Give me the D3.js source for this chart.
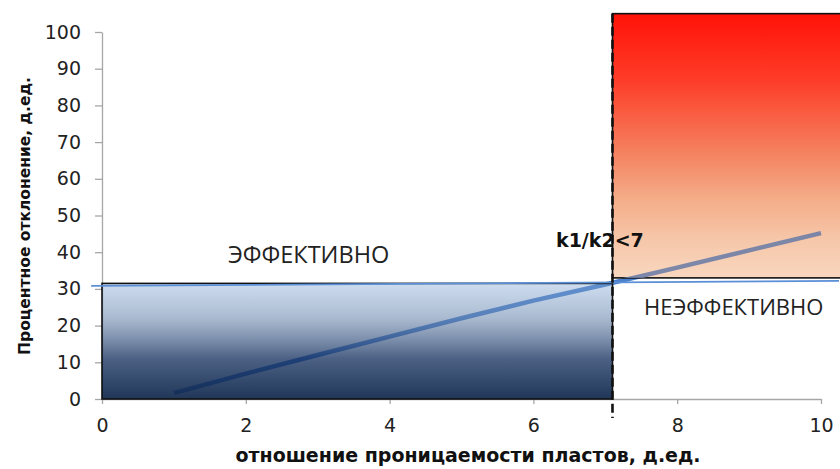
<!DOCTYPE html>
<html><head><meta charset="utf-8">
<script src="https://cdn.jsdelivr.net/npm/d3@7"></script>
<style>body{margin:0;background:#fff}</style>
</head><body>
<svg id="c" width="840" height="469"></svg>
<script>
// Data
const trendX = [1, 2, 3, 4, 5, 6, 7, 8, 9, 10];
const trendY = [1.6, 6.9, 12.0, 17.0, 22.0, 26.8, 31.2, 35.8, 40.5, 45.2];
const baseLineX = [-0.15, 10.25];
const baseLineY = [30.8, 32.2];
const threshold = 7.1;
const effZone = {x0: 0, x1: 7.1, y0: 0, y1: 31.5};
const ineffZone = {x0: 7.1, x1: 10.3, y0: 33, y1: 105};
const xTicks = [0, 2, 4, 6, 8, 10];
const yTicks = [0, 10, 20, 30, 40, 50, 60, 70, 80, 90, 100];
const labels = ["ЭФФЕКТИВНО", "НЕЭФФЕКТИВНО", "k1/k2<7"];
const xTitle = "отношение проницаемости пластов, д.ед.";
const yTitle = "Процентное отклонение, д.ед.";

const svg = d3.select("#c");
const x = d3.scaleLinear().domain([0, 10]).range([102, 821]);
const y = d3.scaleLinear().domain([0, 100]).range([399, 32]);

const defs = svg.append("defs");
function grad(id, stops) {
  const g = defs.append("linearGradient").attr("id", id).attr("x1", 0).attr("y1", 0).attr("x2", 0).attr("y2", 1);
  stops.forEach(s => g.append("stop").attr("offset", s[0]).attr("stop-color", s[1]).attr("stop-opacity", s[2]));
}
grad("gb", [["0%", "#82a7d4", 0.4], ["30%", "#6380a8", 0.55], ["65%", "#102c5b", 0.75], ["100%", "#10284c", 0.93]]);
grad("gr", [["0%", "#ff1208", 1], ["25%", "#fe3c28", 1], ["50%", "#f57b5a", 1], ["70%", "#f4ac88", 1], ["85%", "#f6c6a8", 1], ["100%", "#f8d7bf", 1]]);

// Axes
const font = "'DejaVu Sans', sans-serif";
const yAxis = svg.append("g").attr("transform", `translate(${x(0)},0)`)
  .call(d3.axisLeft(y).tickValues(yTicks).tickSize(7).tickPadding(14).tickSizeOuter(0));
const xAxis = svg.append("g").attr("transform", `translate(0,${y(0)})`)
  .call(d3.axisBottom(x).tickValues(xTicks).tickSize(5).tickPadding(15).tickSizeOuter(0));
[xAxis, yAxis].forEach(a => {
  a.selectAll("path,line").attr("stroke", "#a6a6a6").attr("stroke-width", 1.3);
  a.selectAll("text").attr("font-family", font).attr("font-size", 19).attr("fill", "#222");
});

const pts = trendX.map((v, i) => [v, trendY[i]]);
const line = d3.line().x(d => x(d[0])).y(d => y(d[1]));

// Trend line (under zones)
svg.append("path").datum(pts).attr("d", line).attr("fill", "none")
  .attr("stroke", "#4a7fcc").attr("stroke-width", 4.5);

// Zones
svg.append("rect").attr("x", x(effZone.x0)).attr("y", y(effZone.y1))
  .attr("width", x(effZone.x1) - x(effZone.x0)).attr("height", y(effZone.y0) - y(effZone.y1))
  .attr("fill", "url(#gb)").attr("stroke", "#111").attr("stroke-width", 1.6);
svg.append("clipPath").attr("id", "redclip").append("rect")
  .attr("x", x(ineffZone.x0)).attr("y", y(ineffZone.y1))
  .attr("width", x(ineffZone.x1) - x(ineffZone.x0)).attr("height", y(ineffZone.y0) - y(ineffZone.y1));
svg.append("rect").attr("x", x(ineffZone.x0)).attr("y", y(ineffZone.y1))
  .attr("width", x(ineffZone.x1) - x(ineffZone.x0)).attr("height", y(ineffZone.y0) - y(ineffZone.y1))
  .attr("fill", "url(#gr)").attr("stroke", "#111").attr("stroke-width", 1.6);
// Trend seen through the red zone
svg.append("path").datum(pts).attr("d", line).attr("fill", "none").attr("clip-path", "url(#redclip)")
  .attr("stroke", "#6f7ea6").attr("stroke-width", 4.5).attr("stroke-opacity", 0.9);

// Base horizontal line
svg.append("line").attr("x1", x(baseLineX[0])).attr("x2", x(baseLineX[1]))
  .attr("y1", y(baseLineY[0])).attr("y2", y(baseLineY[1]))
  .attr("stroke", "#5b8fd6").attr("stroke-width", 1.8);

// Threshold dashed line
svg.append("line").attr("x1", x(threshold)).attr("x2", x(threshold))
  .attr("y1", y(ineffZone.y1)).attr("y2", y(0) + 19)
  .attr("stroke", "#111").attr("stroke-width", 2.6).attr("stroke-dasharray", "9,4");

// Labels
const lf = "'Open Sans', sans-serif";
svg.append("text").attr("x", 228).attr("y", 263).attr("font-family", lf).attr("font-size", 23.5)
  .attr("fill", "#222").text(labels[0]);
svg.append("text").attr("x", 644).attr("y", 315).attr("font-family", lf).attr("font-size", 22)
  .attr("fill", "#222").text(labels[1]);
svg.append("text").attr("x", 556).attr("y", 247).attr("font-family", font).attr("font-size", 19)
  .attr("font-weight", "bold").attr("fill", "#111").text(labels[2]);

// Titles
svg.append("text").attr("x", 468).attr("y", 462).attr("text-anchor", "middle")
  .attr("font-family", font).attr("font-size", 19).attr("font-weight", "bold").attr("fill", "#111").text(xTitle);
svg.append("text").attr("transform", "translate(30,216) rotate(-90)").attr("text-anchor", "middle")
  .attr("font-family", font).attr("font-size", 15.5).attr("font-weight", "bold").attr("fill", "#111").text(yTitle);
</script>
</body></html>
